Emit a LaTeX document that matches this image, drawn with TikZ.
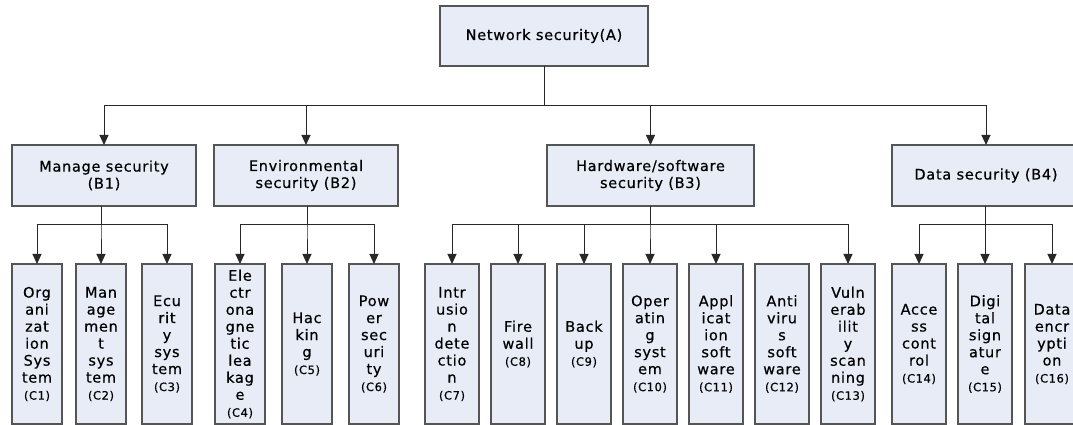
\documentclass[tikz,border=0pt]{standalone}
\usepackage{fontspec}
\setmainfont{DejaVu Sans}[LetterSpace=5, FakeBold=0.5]
\usepackage{tikz}
\usetikzlibrary{positioning, arrows.meta}
\definecolor{boxfill}{RGB}{231,236,247}
\definecolor{boxline}{RGB}{85,85,85}
\definecolor{linegray}{RGB}{40,40,40}
\newcommand{\leaflabel}[1]{{\fontsize{11.5}{13}\selectfont #1}}
\tikzstyle{topbox} = [
    rectangle,
    minimum width=208pt, minimum height=60pt,
    align=center, outer sep=0pt,
    font=\fontsize{14.5}{17}\selectfont,
    draw=boxline, fill=boxfill, line width=1.4pt]
\tikzstyle{midbox} = [topbox, minimum height=61pt]
\tikzstyle{leaf} = [
    rectangle,
    minimum width=50pt, minimum height=160pt,
    inner sep=1pt, align=center, outer sep=0pt,
    font=\fontsize{14.5}{17}\selectfont,
    draw=boxline, fill=boxfill, line width=1.4pt]
\tikzstyle{wideleaf} = [leaf, minimum width=54pt]
\tikzstyle{arrow} = [line width=1pt, draw=linegray, -{Triangle[length=10pt,width=9pt]}]
\begin{document}
\begin{tikzpicture}[x=1pt, y=1pt]
        \useasboundingbox (0,0) rectangle (1073,425);

        \node (a_net) [topbox] at (544,389) {Network security(A)};

        \node (b_manage) [midbox, minimum width=184pt] at (104,249.5) {Manage security\\(B1)};
        \node (b_env) [midbox, minimum width=184pt] at (306,249.5) {Environmental\\security (B2)};
        \node (b_hwsw) [midbox, minimum width=207pt] at (650.5,249.5) {Hardware/software\\security (B3)};
        \node (b_data) [midbox, minimum width=188pt] at (986,249.5) {Data security (B4)};

        \node (c_org) [leaf] at (37,81) {Org\\ani\\zat\\ion\\Sys\\tem\\\leaflabel{(C1)}};
        \node (c_mng) [leaf, right=14pt of c_org] {Man\\age\\men\\t\\sys\\tem\\\leaflabel{(C2)}};
        \node (c_ecu) [leaf, right=16pt of c_mng] {Ecu\\rit\\y\\sys\\tem\\\leaflabel{(C3)}};

        \node (c_elec) [leaf, right=23pt of c_ecu] {Ele\\ctr\\ona\\gne\\tic\\lea\\kag\\e\\\leaflabel{(C4)}};
        \node (c_hack) [leaf, right=17pt of c_elec] {Hac\\kin\\g\\\leaflabel{(C5)}};
        \node (c_power) [leaf, right=17pt of c_hack] {Pow\\er\\sec\\uri\\ty\\\leaflabel{(C6)}};

        \node (c_intr) [wideleaf, right=26pt of c_power] {Intr\\usio\\n\\dete\\ctio\\n\\\leaflabel{(C7)}};
        \node (c_fire) [wideleaf, right=12pt of c_intr] {Fire\\wall\\\leaflabel{(C8)}};
        \node (c_backup) [wideleaf, right=12pt of c_fire] {Back\\up\\\leaflabel{(C9)}};
        \node (c_os) [wideleaf, right=12pt of c_backup] {Oper\\atin\\g\\syst\\em\\\leaflabel{(C10)}};
        \node (c_app) [wideleaf, right=12pt of c_os] {Appl\\icat\\ion\\soft\\ware\\\leaflabel{(C11)}};
        \node (c_virus) [wideleaf, right=12pt of c_app] {Anti\\viru\\s\\soft\\ware\\\leaflabel{(C12)}};
        \node (c_vuln) [wideleaf, right=12pt of c_virus] {Vuln\\erab\\ilit\\y\\scan\\ning\\\leaflabel{(C13)}};

        \node (c_access) [wideleaf, right=17pt of c_vuln] {Acce\\ss\\cont\\rol\\\leaflabel{(C14)}};
        \node (c_sign) [wideleaf, right=12pt of c_access] {Digi\\tal\\sign\\atur\\e\\\leaflabel{(C15)}};
        \node (c_encr) [wideleaf, right=13pt of c_sign] {Data\\encr\\ypti\\on\\\leaflabel{(C16)}};

        \foreach \b in {b_manage, b_env, b_hwsw, b_data}
            \draw [arrow] (a_net.south) -- ++(0,-40) -| (\b.north);

        \foreach \c in {c_org, c_mng, c_ecu}
            \draw [arrow] (b_manage.south -| c_mng.north) -- ++(0,-19) -| (\c.north);
        \foreach \c in {c_elec, c_hack, c_power}
            \draw [arrow] (b_env.south -| c_hack.north) -- ++(0,-19) -| (\c.north);
        \foreach \c in {c_intr, c_fire, c_backup, c_os, c_app, c_vuln}
            \draw [arrow] (b_hwsw.south -| c_os.north) -- ++(0,-19) -| (\c.north);
        \foreach \c in {c_access, c_sign, c_encr}
            \draw [arrow] (b_data.south -| c_sign.north) -- ++(0,-19) -| (\c.north);
    \end{tikzpicture}
\end{document}
